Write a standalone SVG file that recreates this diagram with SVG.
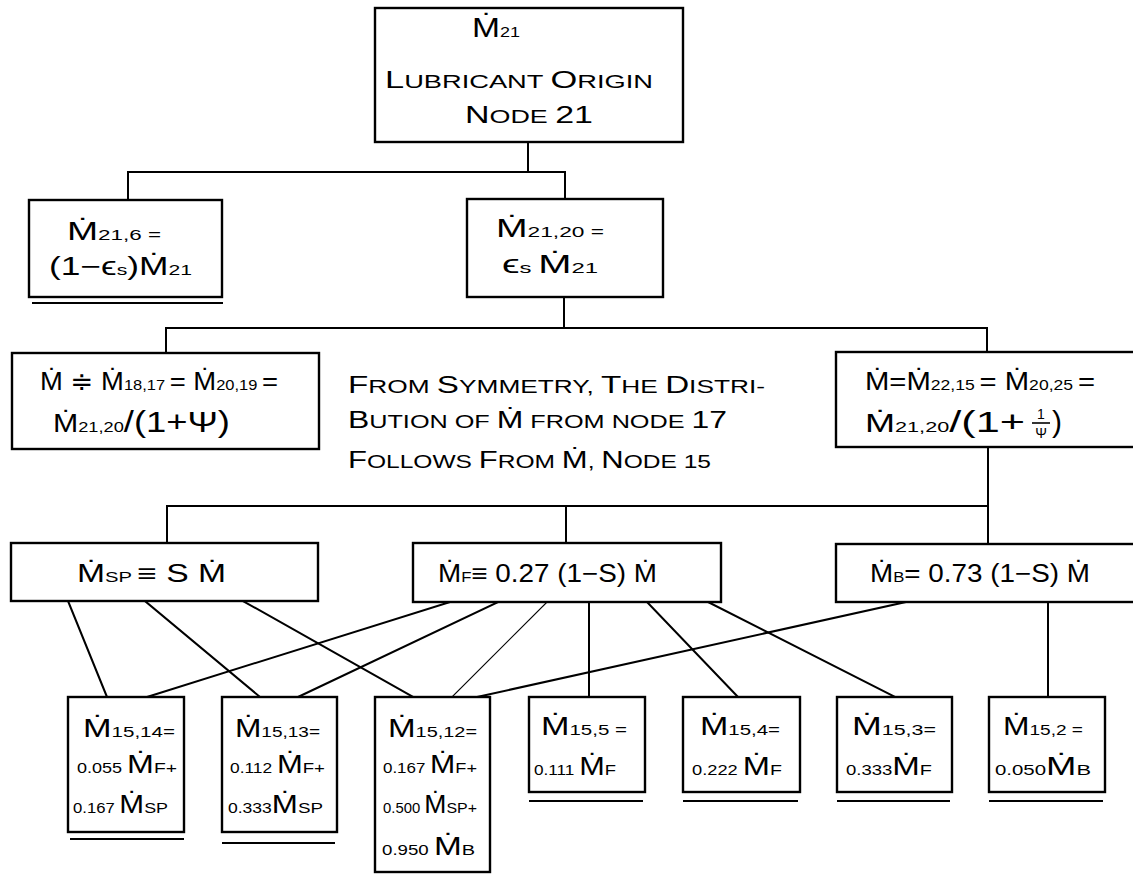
<svg xmlns="http://www.w3.org/2000/svg" width="1133" height="877" viewBox="0 0 1133 877">
<style>
.box{fill:#fff;stroke:#000;stroke-width:2.4}
.ln{stroke:#000;stroke-width:2;fill:none;stroke-linecap:square}
.thin{stroke-width:1.2}
.ul{stroke:#000;stroke-width:2}
text{font-family:"Liberation Sans","DejaVu Sans",sans-serif;fill:#000}
.m{font-size:25px}
.s{font-size:15px}
.n{font-size:14px}
.b{font-size:24px}
.c{font-size:19px}
</style>
<rect width="1133" height="877" fill="#fff"/>
<g id="connectors">
<path class="ln" d="M528 142V172M128 172H565M128 172V200M565 172V199"/>
<path class="ln" d="M564 297V328M166 328H987M166 328V353M987 328V352"/>
<path class="ln" d="M988 447V544M167 506H988M167 506V543M566 506V543"/>
<path class="ln" d="M68 601L107 697M145 601L260 697M243 601L413 697"/>
<path class="ln" d="M450 602L147 697M498 602L298 697M589 602V697M647 602L738 697M708 602L895 697"/>
<path class="ln thin" d="M547 602L452 697"/>
<path class="ln" d="M906 602L477 697M1048 602V697"/>
</g>
<g id="node21">
<rect class="box" x="375" y="8" width="308" height="134"/>
<text x="472" y="37" textLength="48" lengthAdjust="spacingAndGlyphs"><tspan style="font-size:28px">Ṁ</tspan><tspan class="s">21</tspan></text>
<text x="385" y="88" textLength="268" lengthAdjust="spacingAndGlyphs"><tspan class="b">L</tspan><tspan class="c">UBRICANT </tspan><tspan class="b">O</tspan><tspan class="c">RIGIN</tspan></text>
<text x="465" y="123" textLength="128" lengthAdjust="spacingAndGlyphs"><tspan class="b">N</tspan><tspan class="c">ODE </tspan><tspan class="b">21</tspan></text>
</g>
<g id="m21_6">
<rect class="box" x="29" y="200" width="193" height="97"/>
<line class="ul" x1="32" y1="303" x2="223" y2="303"/>
<text x="67" y="240" textLength="94" lengthAdjust="spacingAndGlyphs"><tspan class="m">Ṁ</tspan><tspan class="s">21,6 =</tspan></text>
<text x="49" y="275" textLength="143" lengthAdjust="spacingAndGlyphs"><tspan class="m">(1−ϵ</tspan><tspan class="s">s</tspan><tspan class="m">)Ṁ</tspan><tspan class="s">21</tspan></text>
</g>
<g id="m21_20">
<rect class="box" x="467" y="199" width="196" height="98"/>
<text x="496" y="237" textLength="108" lengthAdjust="spacingAndGlyphs"><tspan class="m">Ṁ</tspan><tspan class="s">21,20 =</tspan></text>
<text x="502" y="273" textLength="96" lengthAdjust="spacingAndGlyphs"><tspan class="m">ϵ</tspan><tspan class="s">s </tspan><tspan class="m">Ṁ</tspan><tspan class="s">21</tspan></text>
</g>
<g id="m18_17">
<rect class="box" x="12" y="353" width="307" height="96"/>
<text x="40" y="390" textLength="238" lengthAdjust="spacingAndGlyphs"><tspan class="m">Ṁ ≑ Ṁ</tspan><tspan class="s">18,17 </tspan><tspan class="m">= Ṁ</tspan><tspan class="s">20,19 </tspan><tspan class="m">=</tspan></text>
<text x="53" y="432" textLength="177" lengthAdjust="spacingAndGlyphs"><tspan class="m">Ṁ</tspan><tspan class="s">21,20</tspan><tspan style="font-size:30px">/(1+Ψ)</tspan></text>
</g>
<g id="note">
<text x="348" y="393" textLength="417" lengthAdjust="spacingAndGlyphs"><tspan class="b">F</tspan><tspan class="c">ROM </tspan><tspan class="b">S</tspan><tspan class="c">YMMETRY, </tspan><tspan class="b">T</tspan><tspan class="c">HE </tspan><tspan class="b">D</tspan><tspan class="c">ISTRI-</tspan></text>
<text x="348" y="428" textLength="379" lengthAdjust="spacingAndGlyphs"><tspan class="b">B</tspan><tspan class="c">UTION OF </tspan><tspan class="b">Ṁ</tspan><tspan class="c"> FROM NODE </tspan><tspan class="b">17</tspan></text>
<text x="348" y="468" textLength="363" lengthAdjust="spacingAndGlyphs"><tspan class="b">F</tspan><tspan class="c">OLLOWS </tspan><tspan class="b">F</tspan><tspan class="c">ROM </tspan><tspan class="b">Ṁ</tspan><tspan class="c">, </tspan><tspan class="b">N</tspan><tspan class="c">ODE 15</tspan></text>
</g>
<g id="m22_15">
<rect class="box" x="836" y="352" width="310" height="95"/>
<text x="865" y="390" textLength="230" lengthAdjust="spacingAndGlyphs"><tspan class="m">Ṁ=Ṁ</tspan><tspan class="s">22,15 </tspan><tspan class="m">= Ṁ</tspan><tspan class="s">20,25 </tspan><tspan class="m">=</tspan></text>
<text x="865" y="432" textLength="160" lengthAdjust="spacingAndGlyphs"><tspan class="m">Ṁ</tspan><tspan class="s">21,20</tspan><tspan style="font-size:30px">/(1+</tspan></text>
<text x="1041" y="419" class="n" text-anchor="middle">1</text>
<line x1="1032" y1="423" x2="1050" y2="423" stroke="#000" stroke-width="1.6"/>
<text x="1041" y="438" class="n" text-anchor="middle">Ψ</text>
<text x="1052" y="432" style="font-size:30px">)</text>
</g>
<g id="msp">
<rect class="box" x="11" y="543" width="307" height="58"/>
<text x="77" y="582" textLength="149" lengthAdjust="spacingAndGlyphs"><tspan class="m">Ṁ</tspan><tspan class="s">SP </tspan><tspan class="m">≡ S Ṁ</tspan></text>
</g>
<g id="mf">
<rect class="box" x="413" y="543" width="308" height="59"/>
<text x="438" y="582" textLength="219" lengthAdjust="spacingAndGlyphs"><tspan class="m">Ṁ</tspan><tspan class="s">F</tspan><tspan class="m">≡ 0.27 (1−S) Ṁ</tspan></text>
</g>
<g id="mb">
<rect class="box" x="836" y="544" width="310" height="58"/>
<text x="870" y="582" textLength="220" lengthAdjust="spacingAndGlyphs"><tspan class="m">Ṁ</tspan><tspan class="s">B</tspan><tspan class="m">= 0.73 (1−S) Ṁ</tspan></text>
</g>
<g id="m15_14">
<rect class="box" x="68" y="697" width="116" height="135"/>
<line class="ul" x1="70" y1="839" x2="184" y2="839"/>
<text x="83" y="737" textLength="92" lengthAdjust="spacingAndGlyphs"><tspan class="m">Ṁ</tspan><tspan class="s">15,14=</tspan></text>
<text x="77" y="773" textLength="100" lengthAdjust="spacingAndGlyphs"><tspan class="n">0.055 </tspan><tspan class="m">Ṁ</tspan><tspan class="s">F+</tspan></text>
<text x="73" y="813" textLength="95" lengthAdjust="spacingAndGlyphs"><tspan class="n">0.167 </tspan><tspan class="m">Ṁ</tspan><tspan class="s">SP</tspan></text>
</g>
<g id="m15_13">
<rect class="box" x="222" y="697" width="115" height="135"/>
<line class="ul" x1="222" y1="843" x2="335" y2="843"/>
<text x="235" y="737" textLength="85" lengthAdjust="spacingAndGlyphs"><tspan class="m">Ṁ</tspan><tspan class="s">15,13=</tspan></text>
<text x="230" y="773" textLength="95" lengthAdjust="spacingAndGlyphs"><tspan class="n">0.112 </tspan><tspan class="m">Ṁ</tspan><tspan class="s">F+</tspan></text>
<text x="228" y="813" textLength="95" lengthAdjust="spacingAndGlyphs"><tspan class="n">0.333</tspan><tspan class="m">Ṁ</tspan><tspan class="s">SP</tspan></text>
</g>
<g id="m15_12">
<rect class="box" x="375" y="697" width="115" height="175"/>
<text x="388" y="737" textLength="89" lengthAdjust="spacingAndGlyphs"><tspan class="m">Ṁ</tspan><tspan class="s">15,12=</tspan></text>
<text x="383" y="773" textLength="94" lengthAdjust="spacingAndGlyphs"><tspan class="n">0.167 </tspan><tspan class="m">Ṁ</tspan><tspan class="s">F+</tspan></text>
<text x="383" y="813" textLength="94" lengthAdjust="spacingAndGlyphs"><tspan class="n">0.500 </tspan><tspan class="m">Ṁ</tspan><tspan class="s">SP+</tspan></text>
<text x="382" y="855" textLength="93" lengthAdjust="spacingAndGlyphs"><tspan class="n">0.950 </tspan><tspan class="m">Ṁ</tspan><tspan class="s">B</tspan></text>
</g>
<g id="m15_5">
<rect class="box" x="529" y="697" width="116" height="95"/>
<line class="ul" x1="529" y1="801" x2="643" y2="801"/>
<text x="541" y="735" textLength="86" lengthAdjust="spacingAndGlyphs"><tspan class="m">Ṁ</tspan><tspan class="s">15,5 =</tspan></text>
<text x="534" y="775" textLength="82" lengthAdjust="spacingAndGlyphs"><tspan class="n">0.111 </tspan><tspan class="m">Ṁ</tspan><tspan class="s">F</tspan></text>
</g>
<g id="m15_4">
<rect class="box" x="683" y="697" width="117" height="95"/>
<line class="ul" x1="683" y1="801" x2="798" y2="801"/>
<text x="700" y="735" textLength="80" lengthAdjust="spacingAndGlyphs"><tspan class="m">Ṁ</tspan><tspan class="s">15,4=</tspan></text>
<text x="692" y="775" textLength="90" lengthAdjust="spacingAndGlyphs"><tspan class="n">0.222 </tspan><tspan class="m">Ṁ</tspan><tspan class="s">F</tspan></text>
</g>
<g id="m15_3">
<rect class="box" x="837" y="697" width="115" height="95"/>
<line class="ul" x1="837" y1="801" x2="950" y2="801"/>
<text x="852" y="735" textLength="84" lengthAdjust="spacingAndGlyphs"><tspan class="m">Ṁ</tspan><tspan class="s">15,3=</tspan></text>
<text x="846" y="775" textLength="86" lengthAdjust="spacingAndGlyphs"><tspan class="n">0.333</tspan><tspan class="m">Ṁ</tspan><tspan class="s">F</tspan></text>
</g>
<g id="m15_2">
<rect class="box" x="989" y="697" width="116" height="95"/>
<line class="ul" x1="989" y1="801" x2="1103" y2="801"/>
<text x="1003" y="735" textLength="80" lengthAdjust="spacingAndGlyphs"><tspan class="m">Ṁ</tspan><tspan class="s">15,2 =</tspan></text>
<text x="995" y="775" textLength="96" lengthAdjust="spacingAndGlyphs"><tspan class="n">0.050</tspan><tspan class="m">Ṁ</tspan><tspan class="s">B</tspan></text>
</g>
</svg>
